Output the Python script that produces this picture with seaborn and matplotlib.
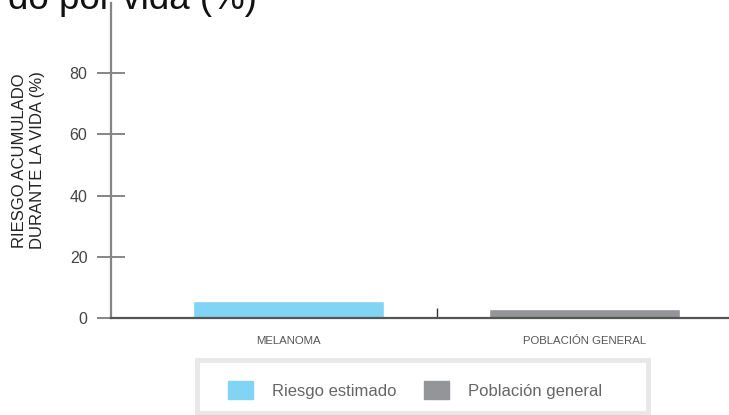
import pandas as pd
import matplotlib.pyplot as plt
import matplotlib.patches as mpatches
from matplotlib.ticker import FixedLocator
import seaborn as sns

# datos
categorias = ['MELANOMA', 'POBLACIÓN GENERAL']
riesgo = [5.6, 2.8]
leyenda = ['Riesgo estimado', 'Población general']
colores = ['#81d4f4', '#939598']
yticks = [0, 20, 40, 60, 80]

df = pd.DataFrame({'categoria': categorias, 'riesgo': riesgo})

sns.set_style('white')
plt.rcParams['font.family'] = ['Liberation Sans', 'DejaVu Sans']

fig = plt.figure(figsize=(7.29, 4.15), dpi=100)
ax = fig.add_axes([111 / 729, 97 / 415, 618 / 729, 315 / 415])

sns.barplot(data=df, x='categoria', y='riesgo', hue='categoria',
            palette=colores, width=0.645, saturation=1, legend=False, ax=ax)

ax.set_xlim(-0.6, 1.488)
ax.set_ylim(0, 102.9)
ax.set_yticks(yticks)
ax.set_xlabel('')
ax.set_ylabel('RIESGO ACUMULADO\nDURANTE LA VIDA (%)', fontsize=12,
              color='#222222', linespacing=1.25, labelpad=18)

# ejes
for s in ['top', 'right']:
    ax.spines[s].set_visible(False)
ax.spines['left'].set_color('#858585')
ax.spines['left'].set_linewidth(1.6)
ax.spines['bottom'].set_color('#555555')
ax.spines['bottom'].set_linewidth(1.6)

ax.tick_params(axis='y', left=True, direction='inout', length=20, width=1.1,
               color='#666666', labelsize=11.5, labelcolor='#444444', pad=7)
ax.tick_params(axis='x', length=0, labelsize=8.2, labelcolor='#555555', pad=13)
ax.xaxis.set_minor_locator(FixedLocator([0.5]))
ax.tick_params(axis='x', which='minor', bottom=True, direction='in', length=7,
               width=1, color='#333333')

# titulo recortado arriba
fig.text(8 / 729, 1 - 9 / 415, 'do por vida (%)', fontsize=26.5,
         color='#111111', va='baseline', ha='left')

# recuadro de la leyenda
caja = mpatches.Rectangle((197 / 729, 1 - 413 / 415), 451 / 729, 53 / 415,
                          transform=fig.transFigure, facecolor='white',
                          edgecolor='#e8e8e8', linewidth=3.5)
fig.patches.append(caja)

handles = [mpatches.Patch(color=c) for c in colores]
fig.legend(handles, leyenda, loc='center', bbox_to_anchor=(415 / 729, 1 - 390 / 415),
           ncol=2, frameon=False, fontsize=12, handlelength=1.5,
           handleheight=1.35, handletextpad=1.15, columnspacing=1.6,
           labelcolor='#666666')

plt.savefig('out.png', dpi=100)
